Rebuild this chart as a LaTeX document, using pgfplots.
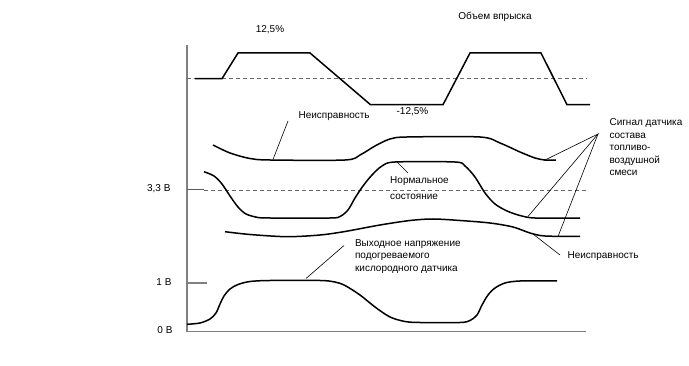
\documentclass[border=0pt]{standalone}
\usepackage{pgfplots}
\pgfplotsset{compat=1.18}
\usepackage{fontspec}
\setmainfont{Liberation Sans}
\definecolor{axgray}{HTML}{808080}
\begin{document}
\begin{tikzpicture}
\begin{axis}[
  scale only axis, width=689pt, height=366pt,
  xmin=0, xmax=689, ymin=0, ymax=366, y dir=reverse,
  axis lines=none, clip=false,
  every node/.style={font=\fontsize{11.2}{12}\selectfont, inner sep=0pt},
]
\path (rel axis cs:0,0) rectangle (rel axis cs:1,1);
% axes
\addplot[axgray, line width=1.1pt] coordinates {(187,45) (187,331.5) (586,331.5)};
\addplot[axgray!70!black, line width=1pt] coordinates {(187,190) (204,190)};
\addplot[axgray, line width=1.1pt] coordinates {(187,283) (207,283)};
% dashed reference lines
\addplot[axgray!80!black, line width=0.8pt, dash pattern=on 4pt off 3pt] coordinates {(187,78.7) (587,78.7)};
\addplot[axgray!80!black, line width=0.8pt, dash pattern=on 4pt off 3pt] coordinates {(204,190) (587,190)};
% injection volume
\addplot[black, line width=1.5pt, sharp plot] coordinates {
 (195,78.7) (222,78.7) (238,53) (310,53) (370.5,104.7) (443,104.7) (470,53) (541,53) (567,104.7) (590,104.7)};
% sensor signal: malfunction (upper)
\addplot[black, line width=1.5pt, smooth] coordinates {
 (213,145) (230,153) (250,158.5) (270,160) (345,160) (360,155) (375,146) (390,139) (407,137) (480,137) (500,143) (520,152) (535,158) (545,160) (556,160)};
% sensor signal: normal
\addplot[black, line width=1.5pt, smooth] coordinates {
 (204,171.7) (214,176) (222,184) (230,196) (238,207) (246,214) (258,217.5) (270,218) (330,218) (340,216.5) (348,210) (355,198) (363,186) (372,175) (382,166) (395,162) (455,162) (465,166) (475,177) (485,193) (495,204) (507,211) (520,215.5) (535,218) (580,218)};
% sensor signal: malfunction (lower)
\addplot[black, line width=1.5pt, smooth] coordinates {
 (225,231.7) (250,234.5) (287,236.7) (320,235) (345,231.5) (380,225) (410,220.5) (433,219) (460,220.5) (490,223) (513,227) (530,233) (545,236) (580,236.5)};
% heated oxygen sensor output
\addplot[black, line width=1.5pt, smooth] coordinates {
 (187,324.3) (200,323) (210,319) (216,313) (220,304) (224,296) (230,289) (238,284.5) (250,281.5) (270,280.5) (320,280.5) (335,282) (345,285.5) (360,295) (375,307) (390,317) (405,321.5) (420,322.5) (460,322.5) (470,320.5) (477,315) (482,305) (488,295) (495,288) (505,283) (520,281) (557,281)};
% leader lines
\addplot[black, line width=0.6pt] coordinates {(288,121) (273,159.5)};
\addplot[black, line width=0.6pt] coordinates {(397,162) (408,173)};
\addplot[black, line width=0.6pt] coordinates {(544,160.5) (598,134) (528,216.5)};
\addplot[black, line width=0.6pt] coordinates {(598,134) (558,236.5)};
\addplot[black, line width=0.6pt] coordinates {(533,234) (560,255)};
\addplot[black, line width=0.6pt] coordinates {(306,278.5) (344,245.5)};
% texts
\node[anchor=base] at (axis cs:270,32.7) {12,5\%};
\node[anchor=base] at (axis cs:495,20) {Объем впрыска};
\node[anchor=base] at (axis cs:412.5,115) {-12,5\%};
\node[anchor=base west] at (axis cs:295,118.3) {Неисправность};
\node[anchor=base east] at (axis cs:174,191.7) {3,3 В};
\node[anchor=base east] at (axis cs:175,286) {1 В};
\node[anchor=base east] at (axis cs:176,333.3) {0 В};
\node[anchor=base west] at (axis cs:386.7,184) {Нормальное};
\node[anchor=base west] at (axis cs:386.7,199.3) {состояние};
\node[anchor=base west] at (axis cs:606,126) {Сигнал датчика};
\node[anchor=base west] at (axis cs:606,138.3) {состава};
\node[anchor=base west] at (axis cs:606,150.7) {топливо-};
\node[anchor=base west] at (axis cs:606,163.1) {воздушной};
\node[anchor=base west] at (axis cs:606,175.5) {смеси};
\node[anchor=base west] at (axis cs:351.5,246.7) {Выходное напряжение};
\node[anchor=base west] at (axis cs:351.5,259) {подогреваемого};
\node[anchor=base west] at (axis cs:351.5,271.3) {кислородного датчика};
\node[anchor=base west] at (axis cs:564,259) {Неисправность};
\end{axis}
\pgfresetboundingbox
\path (0,0) rectangle (689pt,366pt);
\end{tikzpicture}
\end{document}
